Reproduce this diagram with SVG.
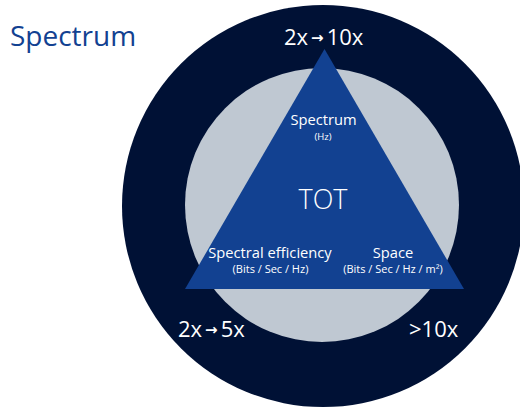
<svg xmlns="http://www.w3.org/2000/svg" width="520" height="407" viewBox="0 0 520 407">
  <style>
    text { font-family: "Open Sans", "Noto Sans", "Liberation Sans", sans-serif; fill: #ffffff; }
    .title { fill: #124191; font-size: 28px; font-weight: 400; }
    .gain { font-size: 22px; }
    .arrow { font-family: "DejaVu Sans", sans-serif; font-size: 15px; font-weight: 700; }
    .big { font-size: 27px; font-weight: 300; text-anchor: middle; }
    .lbl { font-size: 14.7px; text-anchor: middle; }
    .unit { font-size: 11px; text-anchor: middle; }
    .unit-s { font-size: 9.5px; text-anchor: middle; }
  </style>

  <rect width="520" height="407" fill="#ffffff"/>

  <text class="title" x="10" y="46">Spectrum</text>

  <g id="outer-ring">
    <circle cx="323" cy="206" r="201" fill="#001135"/>
  </g>
  <g id="inner-disc">
    <circle cx="322" cy="205" r="137" fill="#bfc8d2"/>
  </g>

  <g id="triangle">
    <polygon points="324.5,49 185,289 464,289" fill="#124191"/>
    <text class="big" x="323" y="209">TOT</text>
  </g>

  <g id="vertex-spectrum">
    <text class="lbl" x="323.5" y="125">Spectrum</text>
    <text class="unit-s" x="323" y="140">(Hz)</text>
    <text class="gain" x="284" y="45">2x<tspan class="arrow" dx="3" dy="-2">→</tspan><tspan dx="3" dy="2">10x</tspan></text>
  </g>

  <g id="vertex-efficiency">
    <text class="lbl" x="270" y="258">Spectral efficiency</text>
    <text class="unit" x="270.5" y="273">(Bits / Sec / Hz)</text>
    <text class="gain" x="178" y="337">2x<tspan class="arrow" dx="3" dy="-2">→</tspan><tspan dx="3" dy="2">5x</tspan></text>
  </g>

  <g id="vertex-space">
    <text class="lbl" x="393" y="258">Space</text>
    <text class="unit" x="393" y="273">(Bits / Sec / Hz / m²)</text>
    <text class="gain" x="409" y="337">&gt;10x</text>
  </g>
</svg>
